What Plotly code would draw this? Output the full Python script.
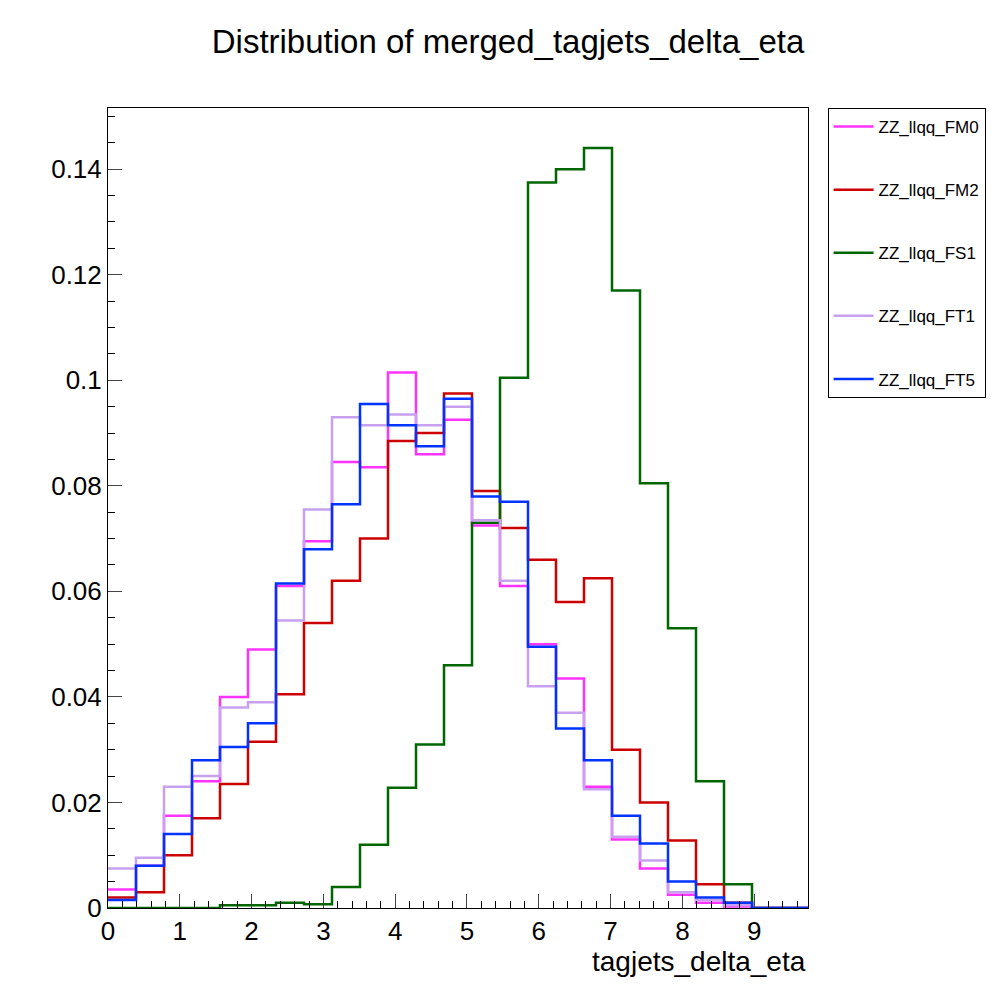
import plotly.graph_objects as go

# 25 bins, width 0.39, range 0 - 9.75
n_bins = 25
bin_width = 0.39
edges = [round(i * bin_width, 4) for i in range(n_bins + 1)]

fm0 = [0.0035, 0.008, 0.0175, 0.024, 0.040, 0.049, 0.061, 0.0695, 0.0845, 0.0835, 0.1015, 0.086, 0.0925,
       0.0725, 0.061, 0.050, 0.0435, 0.023, 0.013, 0.0075, 0.0025, 0.001, 0.0003, 0, 0]
fm2 = [0.002, 0.003, 0.010, 0.017, 0.0235, 0.0315, 0.0405, 0.054, 0.062, 0.070, 0.0885, 0.090, 0.0975,
       0.079, 0.072, 0.066, 0.058, 0.0625, 0.030, 0.020, 0.0128, 0.0045, 0.001, 0, 0]
fs1 = [0, 0, 0, 0, 0.0005, 0.0005, 0.001, 0.0007, 0.004, 0.012, 0.0228, 0.031, 0.046,
       0.073, 0.1005, 0.1375, 0.140, 0.144, 0.117, 0.0805, 0.053, 0.024, 0.0045, 0, 0]
ft1 = [0.0075, 0.0095, 0.023, 0.025, 0.038, 0.039, 0.0545, 0.0755, 0.093, 0.0915, 0.0935, 0.0915, 0.095,
       0.0735, 0.062, 0.042, 0.037, 0.0225, 0.0135, 0.009, 0.003, 0.0015, 0.0005, 0, 0]
ft5 = [0.0015, 0.008, 0.014, 0.028, 0.0305, 0.035, 0.0615, 0.068, 0.0765, 0.0955, 0.0915, 0.0875, 0.0965,
       0.078, 0.077, 0.0495, 0.034, 0.028, 0.0175, 0.0122, 0.005, 0.002, 0.001, 0, 0]

samples = [
    ("ZZ_llqq_FM0", fm0, "#ff33ff"),
    ("ZZ_llqq_FM2", fm2, "#cc0000"),
    ("ZZ_llqq_FS1", fs1, "#006600"),
    ("ZZ_llqq_FT1", ft1, "#c8a0f0"),
    ("ZZ_llqq_FT5", ft5, "#0033ff"),
]

fig = go.Figure()
for name, vals, color in samples:
    fig.add_trace(go.Scatter(
        x=edges, y=vals + [vals[-1]], mode="lines", line_shape="hv",
        line=dict(color=color, width=2.5), name=name, legendgroup=name,
    ))

fig.update_layout(
    width=1000, height=1000,
    paper_bgcolor="white", plot_bgcolor="white",
    font=dict(family="Liberation Sans, Arial, sans-serif", color="black"),
    margin=dict(l=100, r=200, t=100, b=100),
    title=dict(text="Distribution of merged_tagjets_delta_eta", x=0.5, xanchor="center",
               y=0.967, yanchor="middle", font=dict(size=33)),
    legend=dict(x=1.028, y=1, xanchor="left", yanchor="top", bordercolor="black", borderwidth=1,
                font=dict(size=17), tracegroupgap=38, bgcolor="white", itemwidth=40),
    showlegend=True,
)
fig.update_xaxes(range=[0, 9.75], dtick=1, ticks="inside", ticklen=14, showgrid=False, zeroline=False,
                 automargin=False,
                 showline=True, linecolor="black", mirror=True, tickfont=dict(size=26),
                 minor=dict(dtick=0.2, ticks="inside", ticklen=7, tickcolor="black"))
fig.update_yaxes(range=[0, 0.1516], dtick=0.02, ticks="inside", ticklen=14, showgrid=False, zeroline=False,
                 automargin=False,
                 showline=True, linecolor="black", mirror=True, tickfont=dict(size=26),
                 minor=dict(dtick=0.005, ticks="inside", ticklen=7, tickcolor="black"))
fig.add_annotation(text="tagjets_delta_eta", xref="paper", yref="paper", x=1, y=-0.045,
                   xanchor="right", yanchor="top", showarrow=False, font=dict(size=28))

fig.write_html("out.html")
